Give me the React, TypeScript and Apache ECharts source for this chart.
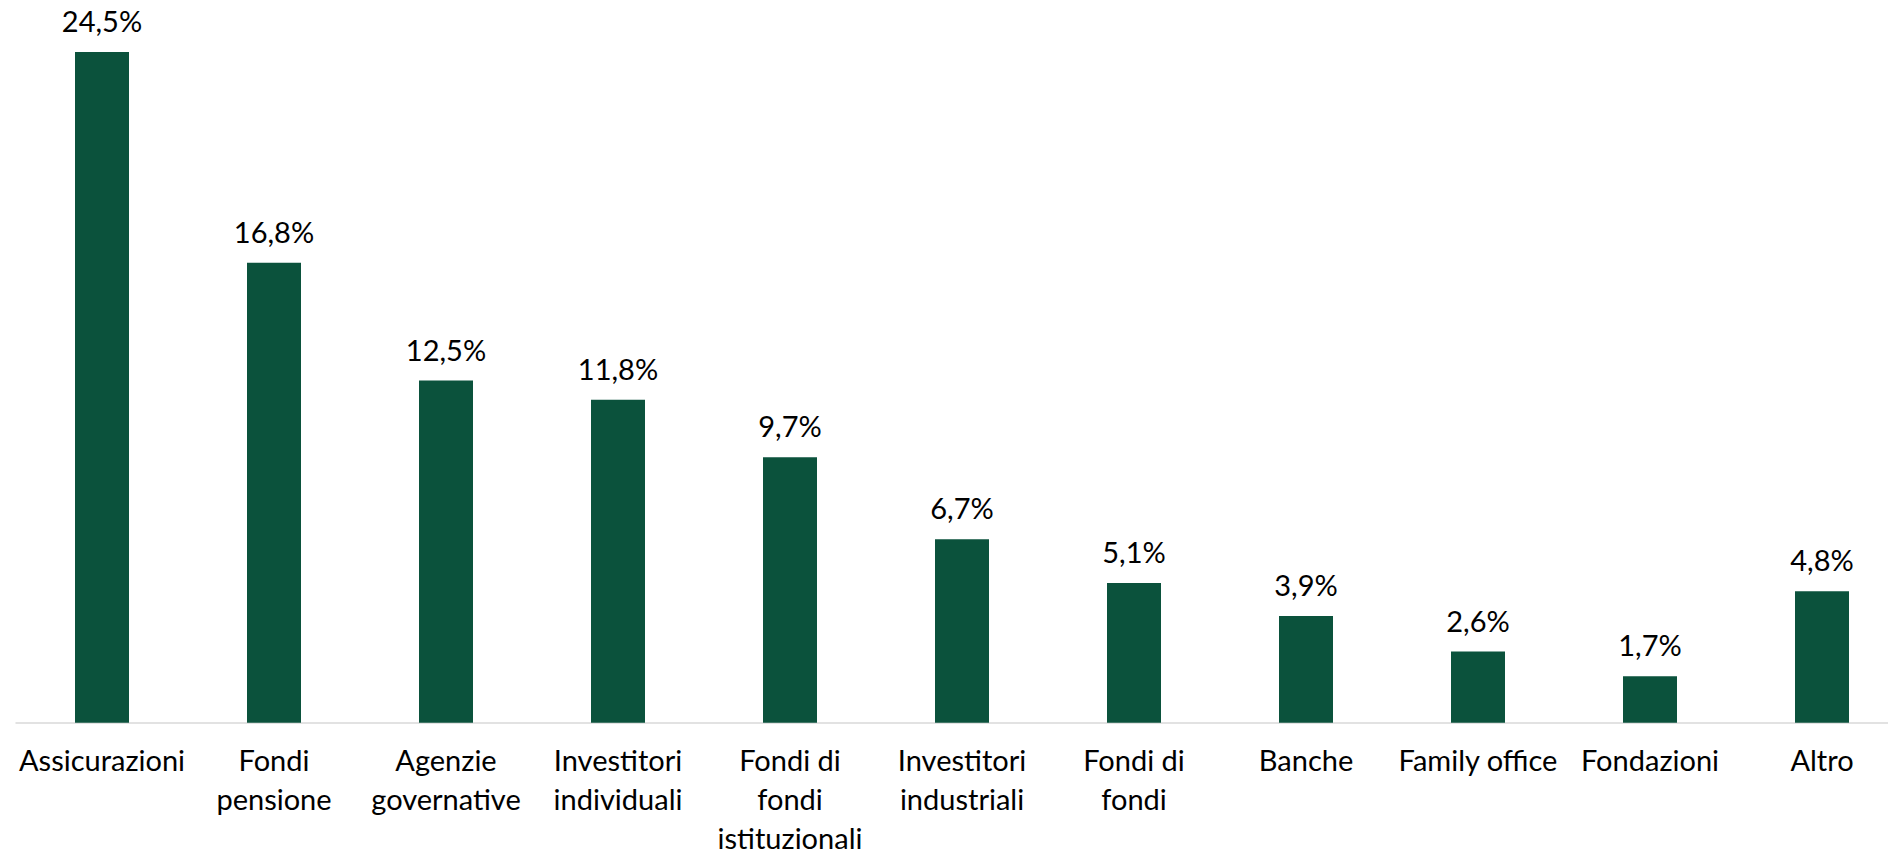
import React, { useEffect, useRef } from "react";
import * as echarts from "echarts";

const categories = [
  "Assicurazioni",
  "Fondi\npensione",
  "Agenzie\ngovernative",
  "Investitori\nindividuali",
  "Fondi di\nfondi\nistituzionali",
  "Investitori\nindustriali",
  "Fondi di\nfondi",
  "Banche",
  "Family office",
  "Fondazioni",
  "Altro",
];

const values = [24.5, 16.8, 12.5, 11.8, 9.7, 6.7, 5.1, 3.9, 2.6, 1.7, 4.8];

const fmt = (v: number) => v.toFixed(1).replace(".", ",") + "%";

export default function App() {
  const ref = useRef<HTMLDivElement>(null);
  useEffect(() => {
    if (!ref.current) return;
    const chart = echarts.init(ref.current, undefined, { renderer: "svg" });
    chart.setOption({
      animation: false,
      backgroundColor: "#ffffff",
      grid: {
        left: 16,
        right: 0,
        top: 38.3,
        bottom: 131.3,
        containLabel: false,
        outerBoundsMode: "none",
      },
      xAxis: {
        type: "category",
        data: categories,
        axisLine: { show: true, lineStyle: { color: "#d9d9d9", width: 1.5 } },
        axisTick: { show: false },
        axisLabel: {
          interval: 0,
          color: "#000000",
          fontFamily: "Lato",
          fontSize: 29,
          lineHeight: 39,
          margin: 17,
        },
      },
      yAxis: {
        type: "value",
        min: 0,
        max: 25,
        show: false,
        splitLine: { show: false },
      },
      series: [
        {
          type: "bar",
          data: values,
          barWidth: 54,
          itemStyle: { color: "#0B523C" },
          label: {
            show: true,
            position: "top",
            distance: 17,
            color: "#000000",
            fontFamily: "Lato",
            fontSize: 29,
            formatter: (p: any) => fmt(p.value),
          },
        },
      ],
    });
    return () => chart.dispose();
  }, []);
  return (
    <div
      ref={ref}
      style={{ position: "fixed", left: 0, top: 0, width: 1908, height: 854, background: "#fff" }}
    />
  );
}
